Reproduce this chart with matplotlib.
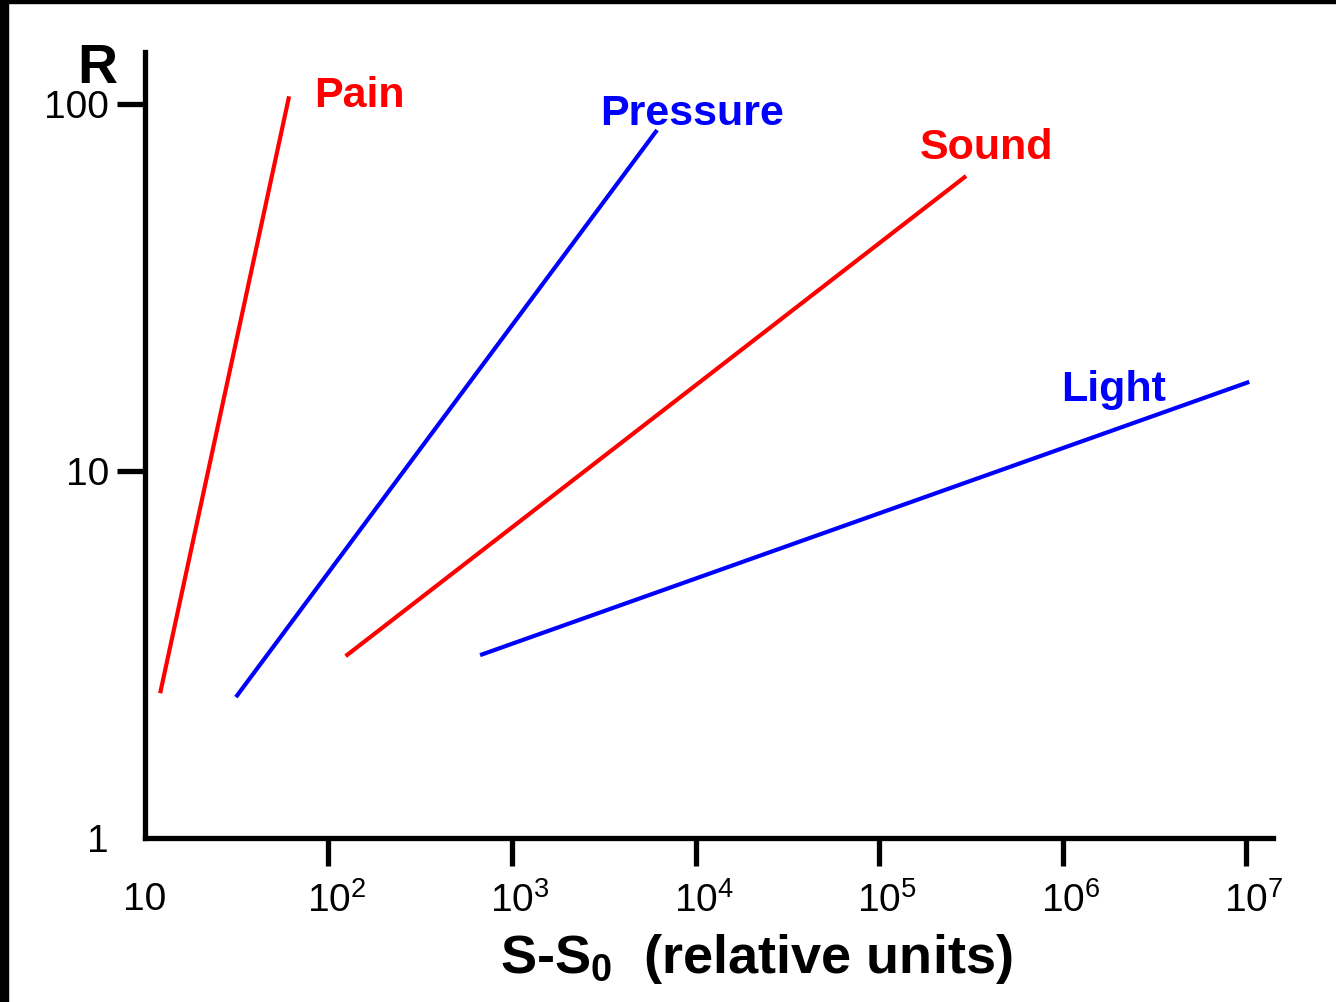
import matplotlib.pyplot as plt
from matplotlib.patches import Rectangle
from matplotlib.transforms import ScaledTranslation

# stimulus range (S-S0) and response R at both ends of each line
senses = ["Pain", "Pressure", "Sound", "Light"]
colors = ["#ff0000", "#0000ff", "#ff0000", "#0000ff"]
stim_start = [12.1, 31.3, 124, 670]
stim_end = [61, 6170, 2.98e5, 1.04e7]
resp_start = [2.48, 2.42, 3.13, 3.15]
resp_end = [105, 85, 63.7, 17.5]

# label anchor points (data coords, left/baseline)
label_x = [84, 3020, 1.67e5, 9.8e5]
label_y = [98, 87.7, 70.8, 15.5]

xticks = [10, 1e2, 1e3, 1e4, 1e5, 1e6, 1e7]
xticklabels = ["10", "$10^2$", "$10^3$", "$10^4$", "$10^5$", "$10^6$", "$10^7$"]
yticks = [1, 10, 100]
yticklabels = ["1", "10", "100"]

plt.rcParams['font.family'] = ['Liberation Sans', 'DejaVu Sans']
plt.rcParams['mathtext.fontset'] = 'custom'
plt.rcParams['mathtext.rm'] = 'Liberation Sans'
plt.rcParams['mathtext.it'] = 'Liberation Sans'
plt.rcParams['mathtext.bf'] = 'Liberation Sans:bold'

fig = plt.figure(figsize=(13.36, 10.02), dpi=100)
ax = fig.add_axes([0.1085, 0.1637, 0.8443, 0.7843])

for i in range(len(senses)):
    ax.plot([stim_start[i], stim_end[i]], [resp_start[i], resp_end[i]],
            color=colors[i], lw=3, solid_capstyle='butt')
    ax.text(label_x[i], label_y[i], senses[i], color=colors[i],
            fontsize=31, fontweight='bold', ha='left', va='baseline')

ax.set_xscale('log')
ax.set_yscale('log')
ax.set_xlim(10, 1.40e7)
ax.set_ylim(1, 138.6)
ax.minorticks_off()
ax.set_xticks(xticks)
ax.set_xticklabels(xticklabels)
ax.set_yticks(yticks)
ax.set_yticklabels(yticklabels)

ax.spines['top'].set_visible(False)
ax.spines['right'].set_visible(False)
for s in ['left', 'bottom']:
    ax.spines[s].set_linewidth(3.8)
ax.tick_params(axis='both', direction='out', length=20, width=3.8,
               labelsize=28)
ax.tick_params(axis='y', pad=6)
ax.tick_params(axis='x', pad=12)
ax.xaxis.get_major_ticks()[0].tick1line.set_visible(False)
ax.yaxis.get_major_ticks()[0].tick1line.set_visible(False)
# keep the "10" part of 10^n centred on its tick
for lbl in ax.get_xticklabels()[1:]:
    lbl.set_transform(lbl.get_transform() +
                      ScaledTranslation(8 / 100, 0, fig.dpi_scale_trans))

ax.text(0.5417, -0.172, 'S-S$_\\mathbf{0}$  (relative units)',
        transform=ax.transAxes, fontsize=39, fontweight='bold',
        ha='center', va='baseline')
ax.text(-0.0426, 0.9606, 'R', transform=ax.transAxes, fontsize=40,
        fontweight='bold', ha='center', va='baseline')

# black frame edges of the original image
fig.patches.append(Rectangle((0, 0), 8 / 1336, 1, transform=fig.transFigure,
                             color='black', zorder=10))
fig.patches.append(Rectangle((0, 1 - 3 / 1002), 1, 3 / 1002,
                             transform=fig.transFigure, color='black', zorder=10))

plt.savefig('out.png', dpi=100)
